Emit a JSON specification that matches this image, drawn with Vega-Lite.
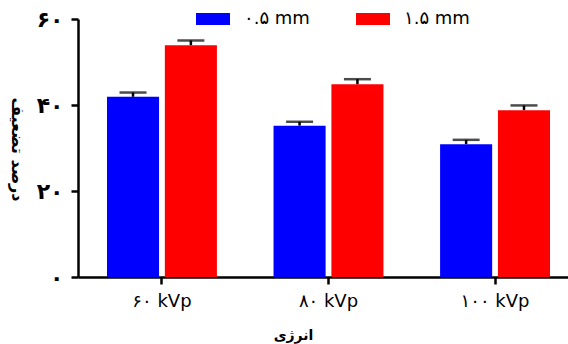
{
  "$schema": "https://vega.github.io/schema/vega-lite/v6.json",
  "autosize": {"type": "none"},
  "width": 490,
  "height": 258,
  "padding": {"left": 78, "top": 19, "right": 0, "bottom": 67},
  "background": "white",
  "config": {
    "font": "DejaVu Sans",
    "view": {"stroke": null},
    "axis": {"grid": false, "domainColor": "black", "tickColor": "black", "domainWidth": 2.5, "tickWidth": 2.5, "labelColor": "black", "titleColor": "black", "labelFont": "DejaVu Sans", "titleFont": "DejaVu Sans"}
  },
  "data": {
    "values": [
      {"energy": "۶۰ kVp", "thickness": "۰.۵ mm", "value": 41.9, "hi": 42.9},
      {"energy": "۶۰ kVp", "thickness": "۱.۵ mm", "value": 53.9, "hi": 55.0},
      {"energy": "۸۰ kVp", "thickness": "۰.۵ mm", "value": 35.2, "hi": 36.1},
      {"energy": "۸۰ kVp", "thickness": "۱.۵ mm", "value": 44.8, "hi": 46.0},
      {"energy": "۱۰۰ kVp", "thickness": "۰.۵ mm", "value": 30.9, "hi": 31.9},
      {"energy": "۱۰۰ kVp", "thickness": "۱.۵ mm", "value": 38.8, "hi": 39.9}
    ]
  },
  "encoding": {
    "x": {
      "field": "energy", "type": "nominal", "sort": null,
      "scale": {"range": [0, 501], "paddingInner": 0.34, "paddingOuter": 0.174},
      "axis": {"title": "انرژی", "labelAngle": 0, "labelFontSize": 18, "labelPadding": 8, "tickSize": 7, "titleFontSize": 14, "titleFontWeight": "bold", "titleY": 58, "titleX": 215, "titleBaseline": "middle"}
    },
    "xOffset": {"field": "thickness", "type": "nominal", "sort": null, "scale": {"paddingInner": 0.1, "paddingOuter": 0}}
  },
  "layer": [
    {
      "mark": {"type": "rule", "color": "black", "strokeWidth": 2.5},
      "encoding": {
        "y": {"field": "value", "type": "quantitative"},
        "y2": {"field": "hi"}
      }
    },
    {
      "mark": {"type": "tick", "color": "black", "thickness": 2.5, "size": 27},
      "encoding": {
        "y": {"field": "hi", "type": "quantitative"}
      }
    },
    {
      "mark": {"type": "bar"},
      "encoding": {
        "y": {
          "field": "value", "type": "quantitative",
          "scale": {"domain": [0, 60], "nice": false},
          "axis": {
            "title": "درصد تضعیف", "titleAngle": 90, "titleFontSize": 16, "titleFontWeight": "bold",
            "titleX": -62, "titleY": 130, "titleAlign": "center", "titleBaseline": "middle",
            "values": [0, 20, 40, 60],
            "labelExpr": "datum.value == 0 ? '۰' : datum.value == 20 ? '۲۰' : datum.value == 40 ? '۴۰' : '۶۰'",
            "labelFontSize": 22, "labelFontWeight": "bold", "labelPadding": 8, "tickSize": 7
          }
        },
        "color": {
          "field": "thickness", "type": "nominal", "sort": null,
          "scale": {"range": ["#0000ff", "#ff0000"]},
          "legend": {
            "title": null, "orient": "none", "direction": "horizontal",
            "legendX": 118, "legendY": -17,
            "symbolType": "M-1,-0.353H1V0.353H-1Z", "symbolSize": 1156, "symbolStrokeWidth": 0,
            "labelFontSize": 18, "labelColor": "black", "labelOffset": 14, "columnPadding": 46
          }
        }
      }
    }
  ]
}
